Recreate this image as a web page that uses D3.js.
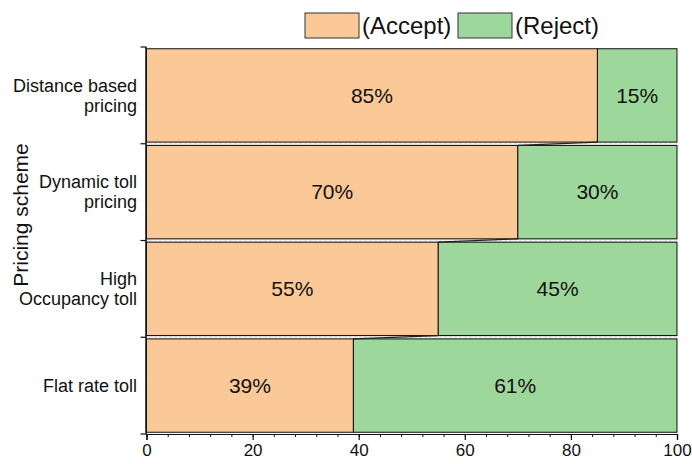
<!DOCTYPE html>
<html>
<head>
<meta charset="utf-8">
<script src="https://cdn.jsdelivr.net/npm/d3@7/dist/d3.min.js"></script>
<style>
  html, body { margin: 0; padding: 0; background: #fff; }
  svg { display: block; font-family: "Liberation Sans", Arial, sans-serif; }
</style>
</head>
<body>
<svg id="chart" width="692" height="464"></svg>
<script>
// Pricing schemes (top to bottom) and share of respondents
const schemes = [
  ["Distance based", "pricing"],
  ["Dynamic toll", "pricing"],
  ["High", "Occupancy toll"],
  ["Flat rate toll"]
];
const accept = [85, 70, 55, 39];
const reject = [15, 30, 45, 61];
const seriesNames = ["(Accept)", "(Reject)"];
const seriesColors = ["#FBC898", "#9ED79B"];
const xTicks = [0, 20, 40, 60, 80, 100];

const svg = d3.select("#chart");
const keys = schemes.map((s, i) => "s" + i);

const x = d3.scaleLinear().domain([0, 100]).range([146.5, 677]);
const y = d3.scaleBand().domain(keys).range([47, 434]).paddingInner(0.035).paddingOuter(0.018);
const boundaries = d3.range(keys.length + 1).map(i => 47 + i * (434 - 47) / keys.length);

const rows = keys.map((k, i) => ({ key: k, accept: accept[i], reject: reject[i] }));
const stack = d3.stack().keys(["accept", "reject"])(rows);

// separators between bars: light dashed strip
const gapG = svg.append("g");
for (let i = 0; i < keys.length - 1; i++) {
  const y0 = y(keys[i]) + y.bandwidth();
  const y1 = y(keys[i + 1]);
  gapG.append("rect").attr("x", x(0)).attr("y", y0).attr("width", x(100) - x(0)).attr("height", y1 - y0)
    .attr("fill", "#e2e2e2");
  gapG.append("line").attr("x1", x(0)).attr("x2", x(100)).attr("y1", (y0 + y1) / 2).attr("y2", (y0 + y1) / 2)
    .attr("stroke", "#ffffff").attr("stroke-width", 1.2).attr("stroke-dasharray", "3,2");
}

// stacked bars
stack.forEach((layer, li) => {
  svg.append("g").selectAll("rect").data(layer).join("rect")
    .attr("x", d => x(d[0]))
    .attr("y", d => y(d.data.key))
    .attr("width", d => x(d[1]) - x(d[0]))
    .attr("height", y.bandwidth())
    .attr("fill", seriesColors[li])
    .attr("stroke", "#111")
    .attr("stroke-width", 1);
});

// connector lines between the accept/reject boundaries of consecutive bars
const conn = svg.append("g");
for (let i = 0; i < keys.length - 1; i++) {
  conn.append("line")
    .attr("x1", x(accept[i])).attr("y1", y(keys[i]) + y.bandwidth())
    .attr("x2", x(accept[i + 1])).attr("y2", y(keys[i + 1]))
    .attr("stroke", "#222").attr("stroke-width", 1.2);
}

// value labels
stack.forEach((layer, li) => {
  svg.append("g").selectAll("text").data(layer).join("text")
    .attr("x", d => (x(d[0]) + x(d[1])) / 2)
    .attr("y", d => y(d.data.key) + y.bandwidth() / 2)
    .attr("dy", "0.35em")
    .attr("text-anchor", "middle")
    .attr("font-size", 21)
    .attr("fill", "#111")
    .text(d => (d[1] - d[0]) + "%");
});

// x axis with major and minor ticks
const xAxisG = svg.append("g").attr("transform", "translate(0,434)");
xAxisG.append("g")
  .call(d3.axisBottom(x).tickValues(d3.range(0, 101, 4)).tickSize(3).tickFormat(""))
  .call(g => g.select(".domain").remove())
  .selectAll("line").attr("stroke", "#111");
xAxisG.append("g")
  .call(d3.axisBottom(x).tickValues(xTicks).tickSize(6).tickPadding(4).tickFormat(d3.format("d")))
  .call(g => g.select(".domain").attr("stroke", "#111").attr("stroke-width", 1.2))
  .call(g => g.selectAll("line").attr("stroke", "#111").attr("stroke-width", 1.2))
  .call(g => g.selectAll("text").attr("font-size", 17).attr("fill", "#111")
    .attr("font-family", "'Liberation Sans', Arial, sans-serif"));

// y axis line with ticks on band boundaries
const yAxisG = svg.append("g");
yAxisG.append("line").attr("x1", x(0) - 0.5).attr("x2", x(0) - 0.5).attr("y1", 47).attr("y2", 434)
  .attr("stroke", "#111").attr("stroke-width", 1.5);
yAxisG.selectAll("line.tk").data(boundaries).join("line").attr("class", "tk")
  .attr("x1", x(0) - 6).attr("x2", x(0)).attr("y1", d => d).attr("y2", d => d)
  .attr("stroke", "#111").attr("stroke-width", 1.2);

// category labels
const catG = svg.append("g");
schemes.forEach((lines, i) => {
  const cy = y(keys[i]) + y.bandwidth() / 2;
  const lh = 20;
  const t = catG.append("text")
    .attr("text-anchor", "end")
    .attr("font-size", 18)
    .attr("fill", "#111");
  lines.forEach((ln, j) => {
    t.append("tspan")
      .attr("x", 137)
      .attr("y", cy + (j - (lines.length - 1) / 2) * lh)
      .attr("dy", "0.35em")
      .text(ln);
  });
});

// y axis title
svg.append("text")
  .attr("transform", "translate(28,215) rotate(-90)")
  .attr("text-anchor", "middle")
  .attr("font-size", 21)
  .attr("fill", "#111")
  .text("Pricing scheme");

// legend
const legend = svg.append("g");
const legendX = [305, 458];
seriesNames.forEach((name, i) => {
  legend.append("rect")
    .attr("x", legendX[i]).attr("y", 13).attr("width", 54).attr("height", 25)
    .attr("fill", seriesColors[i]).attr("stroke", "#333").attr("stroke-width", 1);
  legend.append("text")
    .attr("x", legendX[i] + 57).attr("y", 26).attr("dy", "0.35em")
    .attr("font-size", 24).attr("fill", "#111")
    .text(name);
});
</script>
</body>
</html>
